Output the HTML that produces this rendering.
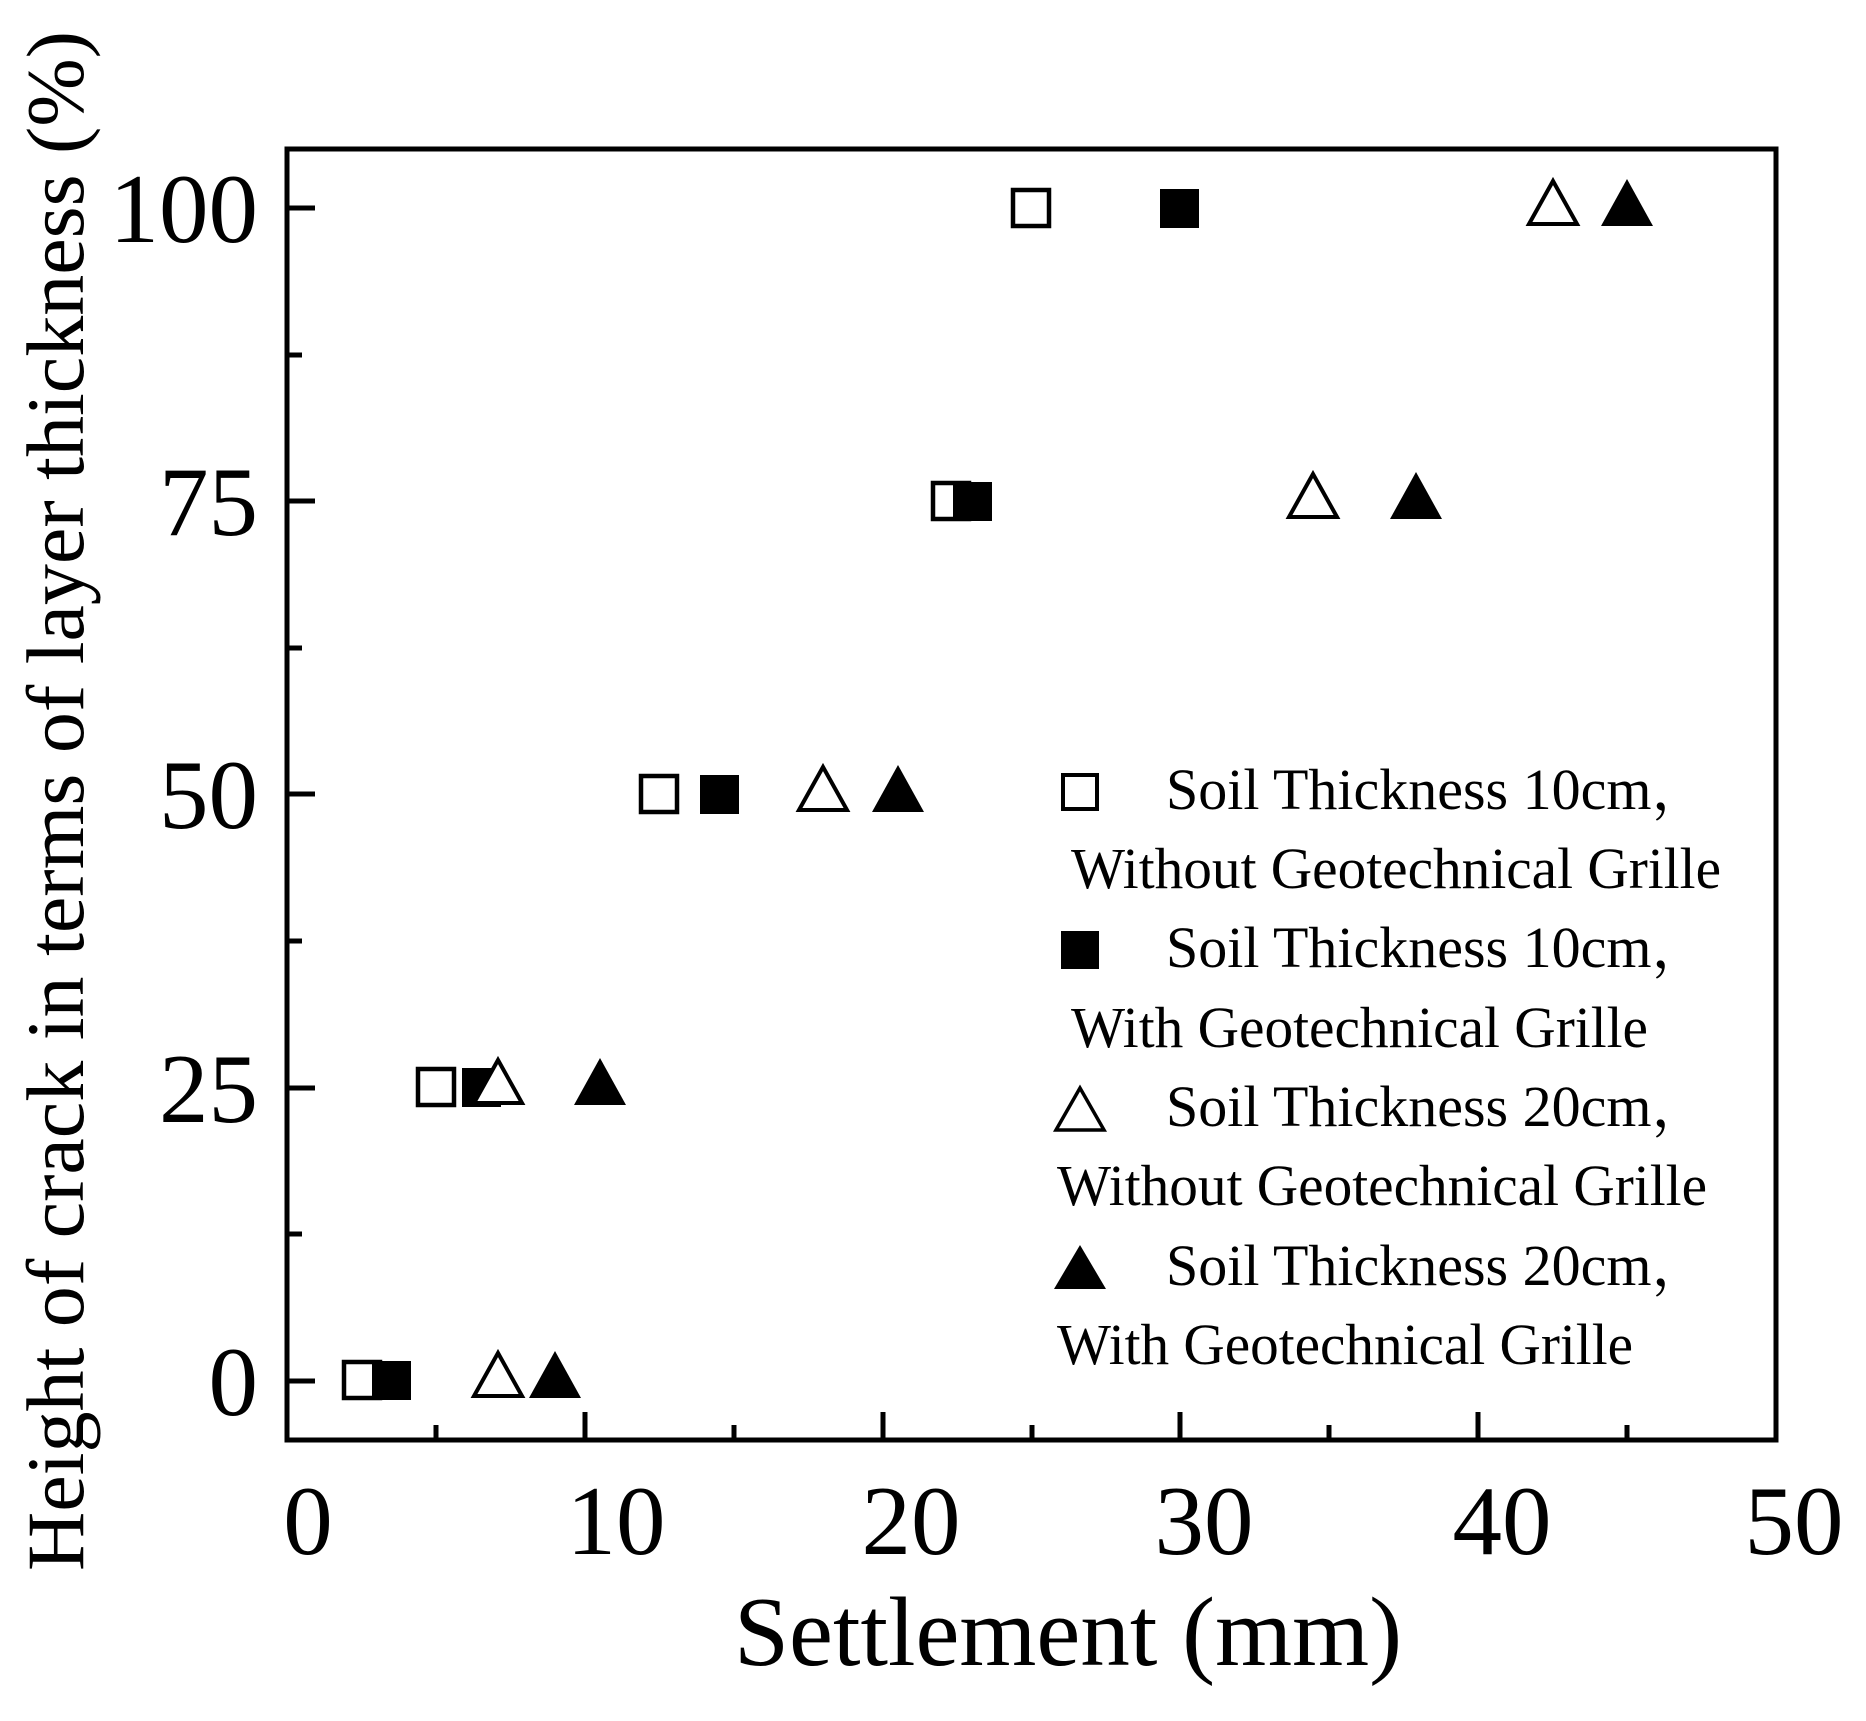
<!DOCTYPE html>
<html><head><meta charset="utf-8"><style>html,body{margin:0;padding:0;background:#fff}svg{display:block}</style></head>
<body>
<svg width="1866" height="1721" viewBox="0 0 1866 1721" xmlns="http://www.w3.org/2000/svg" font-family="'Liberation Serif', serif">
<rect width="1866" height="1721" fill="#fff"/>
<rect x="287" y="149" width="1489" height="1291" fill="none" stroke="#000" stroke-width="5"/>
<g stroke="#000" stroke-width="5">
<line x1="287" y1="1381" x2="315" y2="1381"/>
<line x1="287" y1="1234" x2="302" y2="1234"/>
<line x1="287" y1="1088" x2="315" y2="1088"/>
<line x1="287" y1="941" x2="302" y2="941"/>
<line x1="287" y1="794" x2="315" y2="794"/>
<line x1="287" y1="648" x2="302" y2="648"/>
<line x1="287" y1="501" x2="315" y2="501"/>
<line x1="287" y1="355" x2="302" y2="355"/>
<line x1="287" y1="208" x2="315" y2="208"/>
<line x1="436" y1="1440" x2="436" y2="1425"/>
<line x1="585" y1="1440" x2="585" y2="1412"/>
<line x1="734" y1="1440" x2="734" y2="1425"/>
<line x1="883" y1="1440" x2="883" y2="1412"/>
<line x1="1032" y1="1440" x2="1032" y2="1425"/>
<line x1="1180" y1="1440" x2="1180" y2="1412"/>
<line x1="1329" y1="1440" x2="1329" y2="1425"/>
<line x1="1478" y1="1440" x2="1478" y2="1412"/>
<line x1="1627" y1="1440" x2="1627" y2="1425"/>
</g>
<g font-size="99" text-anchor="end">
<text x="258" y="1415">0</text>
<text x="258" y="1122">25</text>
<text x="258" y="828">50</text>
<text x="258" y="535">75</text>
<text x="258" y="242">100</text>
</g>
<g font-size="99" text-anchor="middle">
<text x="308" y="1554">0</text>
<text x="616" y="1554">10</text>
<text x="911" y="1554">20</text>
<text x="1204" y="1554">30</text>
<text x="1502" y="1554">40</text>
<text x="1794" y="1554">50</text>
</g>
<text x="1068" y="1665" font-size="99" text-anchor="middle">Settlement (mm)</text>
<text transform="translate(83,801) rotate(-90)" font-size="82" text-anchor="middle" textLength="1540" lengthAdjust="spacingAndGlyphs">Height of crack in terms of layer thickness (%)</text>

<g fill="#fff" stroke="#000" stroke-width="4.5">
<rect x="344" y="1362" width="36" height="36"/>
<rect x="418" y="1069" width="36" height="36"/>
<rect x="641" y="776" width="36" height="36"/>
<rect x="933" y="483" width="36" height="36"/>
<rect x="1013" y="190" width="36" height="36"/>
</g>
<g fill="#000">
<rect x="372" y="1361" width="39" height="39"/>
<rect x="462" y="1068" width="39" height="39"/>
<rect x="700" y="775" width="39" height="39"/>
<rect x="953" y="482" width="39" height="39"/>
<rect x="1160" y="189" width="39" height="39"/>
</g>
<g fill="#fff" stroke="#000" stroke-width="4" stroke-linejoin="miter">
<polygon points="498,1353 474,1396 522,1396"/>
<polygon points="498,1060 474,1103 522,1103"/>
<polygon points="823,767 799,810 847,810"/>
<polygon points="1313,474 1289,517 1337,517"/>
<polygon points="1553,181 1529,224 1577,224"/>
</g>
<g fill="#000">
<polygon points="555,1351 529,1398 581,1398"/>
<polygon points="600,1058 574,1105 626,1105"/>
<polygon points="898,765 872,812 924,812"/>
<polygon points="1416,472 1390,519 1442,519"/>
<polygon points="1627,179 1601,226 1653,226"/>
</g>

<rect x="1063" y="775" width="34" height="34" fill="#fff" stroke="#000" stroke-width="4"/>
<rect x="1061" y="931" width="38" height="38" fill="#000"/>
<polygon points="1080,1088 1056,1130 1104,1130" fill="#fff" stroke="#000" stroke-width="3.5"/>
<polygon points="1080,1245 1054,1289 1106,1289" fill="#000"/>
<g font-size="58" font-family="'Liberation Serif', 'Noto Serif CJK SC', serif">
<text x="1166" y="809">Soil Thickness 10cm，</text>
<text x="1071" y="888" textLength="650" lengthAdjust="spacingAndGlyphs">Without Geotechnical Grille</text>
<text x="1166" y="967">Soil Thickness 10cm，</text>
<text x="1071" y="1047" textLength="577" lengthAdjust="spacingAndGlyphs">With Geotechnical Grille</text>
<text x="1166" y="1126">Soil Thickness 20cm，</text>
<text x="1057" y="1205" textLength="650" lengthAdjust="spacingAndGlyphs">Without Geotechnical Grille</text>
<text x="1166" y="1285">Soil Thickness 20cm，</text>
<text x="1057" y="1364" textLength="576" lengthAdjust="spacingAndGlyphs">With Geotechnical Grille</text>
</g>
</svg>
</body></html>
